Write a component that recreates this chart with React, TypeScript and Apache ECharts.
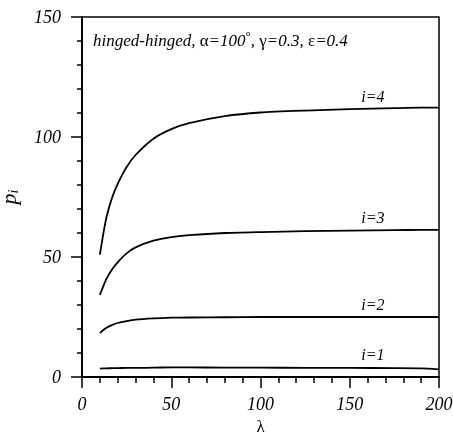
import React, { useEffect, useRef } from "react";
import * as echarts from "echarts";

const lambdas = [10, 12, 14, 17, 20, 25, 30, 40, 50, 60, 80, 100, 125, 150, 175, 190, 200];
const p1 = [3.5, 3.6, 3.6, 3.7, 3.7, 3.8, 3.8, 3.9, 4.0, 4.0, 3.9, 3.9, 3.8, 3.8, 3.7, 3.6, 3.2];
const p2 = [18.3, 19.6, 20.6, 21.7, 22.5, 23.3, 23.9, 24.4, 24.7, 24.8, 24.9, 25.0, 25.0, 25.0, 25.0, 25.0, 25.0];
const p3 = [34.2, 38.0, 41.3, 45.0, 47.8, 51.5, 54.0, 56.8, 58.3, 59.1, 60.0, 60.4, 60.8, 61.0, 61.2, 61.3, 61.3];
const p4 = [51, 60, 67.5, 75, 80.5, 87.5, 92.5, 99.3, 103.3, 105.8, 108.7, 110.2, 111.0, 111.6, 112.0, 112.2, 112.2];
const seriesNames = ["i=1", "i=2", "i=3", "i=4"];
const labelLambda = 163;
const xTicks = [0, 50, 100, 150, 200];
const yTicks = [0, 50, 100, 150];

const FONT = "Liberation Serif";

export default function App() {
  const ref = useRef<HTMLDivElement>(null);
  useEffect(() => {
    if (!ref.current) return;
    const chart = echarts.init(ref.current, null, { renderer: "svg" });
    const all = [p1, p2, p3, p4];
    const series = all.map((vals, k) => ({
      type: "line",
      name: seriesNames[k],
      data: lambdas.map((l, j) => [l, vals[j]]),
      smooth: 0.2,
      showSymbol: false,
      lineStyle: { color: "#000", width: 1.8 },
      markPoint: {
        symbol: "circle",
        symbolSize: 0,
        data: [
          {
            coord: [labelLambda, vals[lambdas.indexOf(150)]],
            label: {
              show: true,
              position: "top",
              formatter: seriesNames[k],
              color: "#000",
              fontFamily: FONT,
              fontStyle: "italic",
              fontSize: 16,
            },
          },
        ],
      },
    }));
    chart.setOption({
      animation: false,
      grid: {
        left: 82,
        right: 14,
        top: 17,
        bottom: 57,
        outerBoundsMode: "none",
        containLabel: false,
        show: true,
        borderColor: "#000",
        borderWidth: 1.5,
      },
      xAxis: {
        type: "value",
        min: xTicks[0],
        max: xTicks[xTicks.length - 1],
        interval: 50,
        name: "λ",
        nameLocation: "middle",
        nameGap: 40,
        nameTextStyle: { color: "#000", fontFamily: FONT, fontSize: 17 },
        axisLine: { lineStyle: { color: "#000", width: 2 } },
        axisTick: { length: 11, lineStyle: { color: "#000", width: 1.5 } },
        minorTick: { show: true, splitNumber: 5, length: 6, lineStyle: { color: "#000", width: 1.5 } },
        splitLine: { show: false },
        axisLabel: {
          color: "#000",
          fontFamily: FONT,
          fontStyle: "italic",
          fontSize: 18,
          margin: 18,
        },
      },
      yAxis: {
        type: "value",
        min: yTicks[0],
        max: yTicks[yTicks.length - 1],
        interval: 50,
        name: "{p|p}{s|i}",
        nameLocation: "middle",
        nameGap: 62,
        nameRotate: 90,
        nameTextStyle: {
          rich: {
            p: { fontFamily: FONT, fontStyle: "italic", fontSize: 22, color: "#000" },
            s: { fontFamily: FONT, fontStyle: "italic", fontSize: 14, color: "#000", padding: [10, 0, 0, 0] },
          },
        },
        axisLine: { lineStyle: { color: "#000", width: 2 } },
        axisTick: { length: 11, lineStyle: { color: "#000", width: 1.5 } },
        minorTick: { show: true, splitNumber: 5, length: 5, lineStyle: { color: "#000", width: 1.5 } },
        splitLine: { show: false },
        axisLabel: {
          color: "#000",
          fontFamily: FONT,
          fontStyle: "italic",
          fontSize: 18,
          margin: 21,
        },
      },
      graphic: [
        {
          type: "text",
          left: 93,
          top: 29,
          style: {
            text: "{t|hinged-hinged, }{g|α}{t|=100}{d|°}{t|, }{g|γ}{t|=0.3, }{g|ε}{t|=0.4}",
            rich: {
              t: { fontFamily: FONT, fontStyle: "italic", fontSize: 17, fill: "#000" },
              g: { fontFamily: FONT, fontSize: 17, fill: "#000" },
              d: { fontFamily: FONT, fontSize: 13, fill: "#000", padding: [0, 0, 10, 0] },
            },
          },
        },
      ],
      series,
    });
    return () => chart.dispose();
  }, []);
  return <div ref={ref} style={{ position: "fixed", left: 0, top: 0, width: 453, height: 434 }} />;
}
